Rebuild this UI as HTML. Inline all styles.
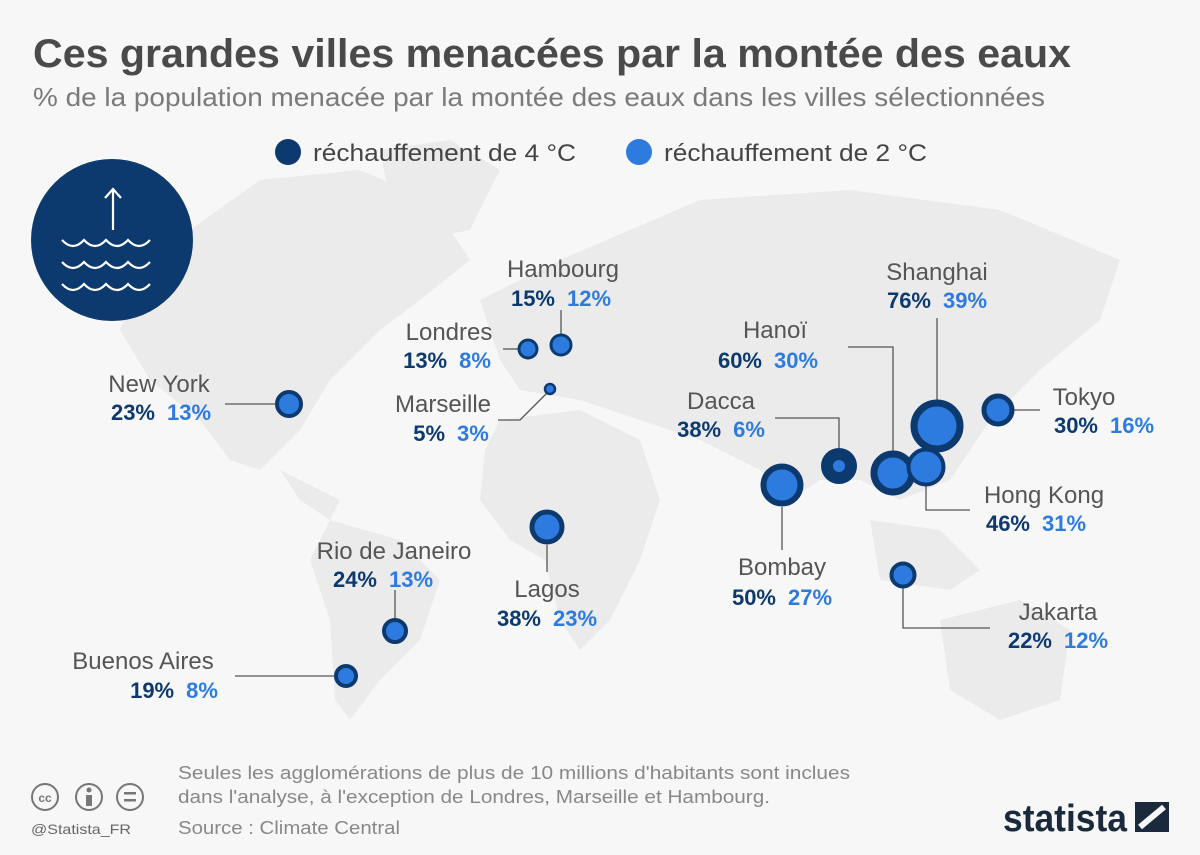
<!DOCTYPE html>
<html><head><meta charset="utf-8"><style>
html,body{margin:0;padding:0;background:#f7f7f7}
svg{display:block}
text{font-family:"Liberation Sans",sans-serif}
.n{font-size:24px;fill:#555;text-anchor:middle}
.d{font-size:22px;fill:#0d3a6e;font-weight:bold}
.l{font-size:22px;fill:#2e7be0;font-weight:bold}
.ln{stroke:#555;stroke-width:1.3;fill:none}
</style></head><body>
<svg width="1200" height="855" viewBox="0 0 1200 855">
<rect width="1200" height="855" fill="#f7f7f7"/>
<g fill="#ebebeb">
<path d="M190,230 L260,180 L360,170 L430,200 L470,260 L420,300 L380,330 L330,380 L300,430 L260,470 L230,460 L200,420 L150,380 L120,330 L140,270Z"/>
<path d="M380,150 L450,140 L500,170 L470,230 L420,240 L390,200Z"/>
<path d="M280,470 L340,500 L330,520 L300,500Z"/>
<path d="M330,520 L400,540 L440,580 L420,640 L380,680 L350,720 L335,700 L330,620 L310,560Z"/>
<path d="M480,300 L560,260 L700,200 L850,190 L1000,210 L1120,260 L1100,320 L1040,370 L990,420 L950,480 L900,500 L860,480 L820,480 L790,500 L760,470 L700,440 L640,420 L580,400 L520,390 L500,360Z"/>
<path d="M500,420 L580,410 L640,440 L660,500 L640,560 L610,620 L580,650 L560,620 L545,560 L510,540 L480,500 L485,450Z"/>
<path d="M870,520 L940,530 L980,570 L950,590 L880,580Z"/>
<path d="M940,620 L1020,600 L1070,630 L1060,700 L1000,720 L950,690Z"/>
</g>
<text x="33" y="67" font-size="40" font-weight="bold" fill="#4a4a4a" textLength="1038" lengthAdjust="spacingAndGlyphs">Ces grandes villes menacées par la montée des eaux</text>
<text x="33" y="106" font-size="26" fill="#7a7a7a" textLength="1012" lengthAdjust="spacingAndGlyphs">% de la population menacée par la montée des eaux dans les villes sélectionnées</text>
<circle cx="288" cy="152" r="13" fill="#0d3a6e"/>
<text x="313" y="161" font-size="24" fill="#444" textLength="263" lengthAdjust="spacingAndGlyphs">réchauffement de 4 °C</text>
<circle cx="639" cy="152" r="13" fill="#2e7be0"/>
<text x="664" y="161" font-size="24" fill="#444" textLength="263" lengthAdjust="spacingAndGlyphs">réchauffement de 2 °C</text>
<circle cx="112" cy="240" r="81" fill="#0d3a6e"/>
<g stroke="#fff" stroke-width="2.2" fill="none">
<path d="M113,230 V189 M105,198 L113,189 L121,198"/>
<path d="M62,240 q11,12 22,0 q11,12 22,0 q11,12 22,0 q11,12 22,0"/>
<path d="M62,262 q11,12 22,0 q11,12 22,0 q11,12 22,0 q11,12 22,0"/>
<path d="M62,284 q11,12 22,0 q11,12 22,0 q11,12 22,0 q11,12 22,0"/>
</g>
<g class="ln">
<path d="M225,404 H275"/><path d="M503,349 H518"/><path d="M561,310 V334"/>
<path d="M498,420 H520 L548,392"/><path d="M547,545 V572"/><path d="M395,590 V618"/>
<path d="M235,676 H334"/><path d="M782,507 V550"/><path d="M775,418 H839 V448"/>
<path d="M848,347 H893 V451"/><path d="M937,318 V400"/><path d="M926,486 V510 H970"/>
<path d="M1014,410 H1040"/><path d="M903,588 V628 H990"/>
</g>
<g fill="#2e7be0" stroke="#0d3a6e">
<circle cx="289" cy="404" r="12" stroke-width="4"/>
<circle cx="528" cy="349" r="9" stroke-width="3"/>
<circle cx="561" cy="345" r="10" stroke-width="3"/>
<circle cx="550" cy="389" r="5" stroke-width="2.5"/>
<circle cx="547" cy="527" r="15" stroke-width="5"/>
<circle cx="395" cy="631" r="11" stroke-width="4"/>
<circle cx="346" cy="676" r="10" stroke-width="4"/>
<circle cx="782" cy="485" r="18.5" stroke-width="6"/>
<circle cx="839" cy="466" r="12" stroke-width="12"/>
<circle cx="893" cy="473" r="19" stroke-width="7"/>
<circle cx="937" cy="426" r="23" stroke-width="7"/>
<circle cx="926" cy="467" r="17.5" stroke-width="4"/>
<circle cx="998" cy="410" r="14" stroke-width="5"/>
<circle cx="903" cy="575" r="11.5" stroke-width="4"/>
</g>
<text class="n" x="563" y="277">Hambourg</text><text x="561" y="306" text-anchor="middle"><tspan class="d">15%</tspan><tspan class="l" dx="12">12%</tspan></text>
<text class="n" x="449" y="340">Londres</text><text x="447" y="368" text-anchor="middle"><tspan class="d">13%</tspan><tspan class="l" dx="12">8%</tspan></text>
<text class="n" x="159" y="392">New York</text><text x="161" y="420" text-anchor="middle"><tspan class="d">23%</tspan><tspan class="l" dx="12">13%</tspan></text>
<text class="n" x="443" y="412">Marseille</text><text x="451" y="441" text-anchor="middle"><tspan class="d">5%</tspan><tspan class="l" dx="12">3%</tspan></text>
<text class="n" x="721" y="409">Dacca</text><text x="721" y="437" text-anchor="middle"><tspan class="d">38%</tspan><tspan class="l" dx="12">6%</tspan></text>
<text class="n" x="775" y="338">Hanoï</text><text x="768" y="368" text-anchor="middle"><tspan class="d">60%</tspan><tspan class="l" dx="12">30%</tspan></text>
<text class="n" x="937" y="280">Shanghai</text><text x="937" y="308" text-anchor="middle"><tspan class="d">76%</tspan><tspan class="l" dx="12">39%</tspan></text>
<text class="n" x="1084" y="405">Tokyo</text><text x="1104" y="433" text-anchor="middle"><tspan class="d">30%</tspan><tspan class="l" dx="12">16%</tspan></text>
<text class="n" x="1044" y="503">Hong Kong</text><text x="1036" y="531" text-anchor="middle"><tspan class="d">46%</tspan><tspan class="l" dx="12">31%</tspan></text>
<text class="n" x="394" y="559">Rio de Janeiro</text><text x="383" y="587" text-anchor="middle"><tspan class="d">24%</tspan><tspan class="l" dx="12">13%</tspan></text>
<text class="n" x="547" y="597">Lagos</text><text x="547" y="626" text-anchor="middle"><tspan class="d">38%</tspan><tspan class="l" dx="12">23%</tspan></text>
<text class="n" x="782" y="575">Bombay</text><text x="782" y="605" text-anchor="middle"><tspan class="d">50%</tspan><tspan class="l" dx="12">27%</tspan></text>
<text class="n" x="1058" y="620">Jakarta</text><text x="1058" y="648" text-anchor="middle"><tspan class="d">22%</tspan><tspan class="l" dx="12">12%</tspan></text>
<text class="n" x="143" y="669">Buenos Aires</text><text x="174" y="698" text-anchor="middle"><tspan class="d">19%</tspan><tspan class="l" dx="12">8%</tspan></text>
<g fill="none" stroke="#777" stroke-width="2">
<circle cx="45" cy="797" r="13"/><circle cx="89" cy="797" r="13"/><circle cx="130" cy="797" r="13"/>
</g>
<text x="45" y="802" font-size="12" font-weight="bold" fill="#777" text-anchor="middle">cc</text>
<rect x="86" y="795" width="6" height="11" fill="#777"/><circle cx="89" cy="790" r="2.5" fill="#777"/>
<rect x="124" y="792" width="12" height="2.5" fill="#777"/><rect x="124" y="799" width="12" height="2.5" fill="#777"/>
<text x="31" y="834" font-size="14" fill="#666" textLength="100" lengthAdjust="spacingAndGlyphs">@Statista_FR</text>
<text x="178" y="779" font-size="18" fill="#888" textLength="672" lengthAdjust="spacingAndGlyphs">Seules les agglomérations de plus de 10 millions d'habitants sont inclues</text>
<text x="178" y="803" font-size="18" fill="#888" textLength="592" lengthAdjust="spacingAndGlyphs">dans l'analyse, à l'exception de Londres, Marseille et Hambourg.</text>
<text x="178" y="834" font-size="18" fill="#888" textLength="222" lengthAdjust="spacingAndGlyphs">Source : Climate Central</text>
<text x="1003" y="831" font-size="38" font-weight="bold" fill="#1a2a3c" textLength="124" lengthAdjust="spacingAndGlyphs">statista</text>
<rect x="1135" y="802" width="34" height="30" fill="#1a2a3c"/>
<path d="M1140,827 L1164,807" stroke="#f7f7f7" stroke-width="6"/>
</svg>
</body></html>
